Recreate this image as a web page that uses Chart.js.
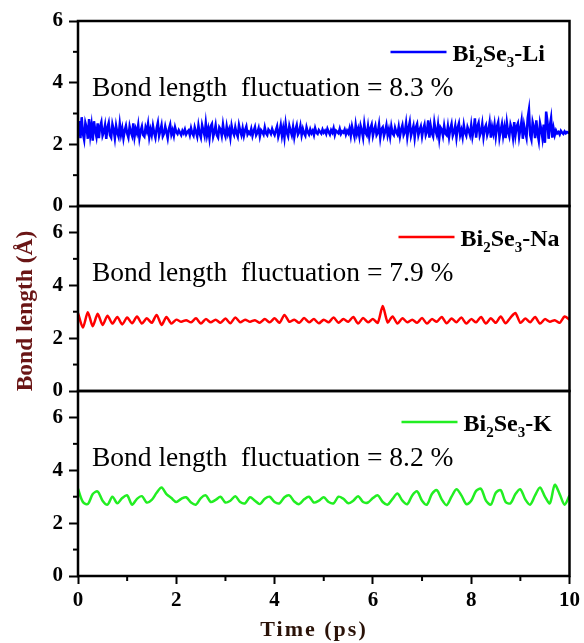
<!DOCTYPE html>
<html>
<head>
<meta charset="utf-8">
<script src="https://cdn.jsdelivr.net/npm/chart.js@4.4.0/dist/chart.umd.min.js"></script>
<style>
  html, body { margin: 0; padding: 0; background: #fff; }
  #wrap { position: relative; width: 584px; height: 643px; }
</style>
</head>
<body>
<div id="wrap"><canvas id="chart"></canvas></div>
<script>
// sampling step (ps) of each trace
const liStep = 0.025;
const naStep = 0.1;
const kStep = 0.1;

// Bi2Se3-Li bond length (Å), one row = 0.5 ps
const liBond = [
  2.40, 2.75, 2.20, 2.88, 2.35, 2.15, 2.70, 2.55, 2.18, 2.82, 2.30, 2.62, 2.12, 2.75, 2.45, 2.25, 2.68, 2.20, 2.58, 2.72,
  2.28, 2.40, 2.62, 2.18, 2.55, 2.70, 2.30, 2.22, 2.65, 2.48, 2.20, 2.60, 2.38, 2.25, 2.66, 2.32, 2.52, 2.20, 2.45, 2.60,
  2.35, 2.22, 2.58, 2.40, 2.28, 2.68, 2.25, 2.50, 2.36, 2.62, 2.20, 2.44, 2.58, 2.30, 2.25, 2.55, 2.42, 2.66, 2.24, 2.48,
  2.30, 2.60, 2.38, 2.22, 2.52, 2.70, 2.28, 2.44, 2.62, 2.26, 2.35, 2.58, 2.40, 2.20, 2.50, 2.64, 2.32, 2.46, 2.28, 2.55,
  2.40, 2.34, 2.46, 2.38, 2.30, 2.44, 2.36, 2.48, 2.32, 2.40, 2.45, 2.30, 2.52, 2.36, 2.28, 2.55, 2.40, 2.25, 2.60, 2.35,
  2.22, 2.62, 2.45, 2.28, 2.68, 2.30, 2.50, 2.20, 2.58, 2.66, 2.25, 2.40, 2.62, 2.30, 2.22, 2.55, 2.48, 2.28, 2.64, 2.38,
  2.26, 2.58, 2.34, 2.48, 2.22, 2.60, 2.40, 2.30, 2.55, 2.36, 2.25, 2.62, 2.44, 2.30, 2.52, 2.28, 2.46, 2.58, 2.32, 2.40,
  2.34, 2.50, 2.28, 2.44, 2.56, 2.30, 2.38, 2.52, 2.26, 2.46, 2.40, 2.32, 2.55, 2.36, 2.30, 2.48, 2.42, 2.34, 2.50, 2.38,
  2.30, 2.45, 2.58, 2.25, 2.40, 2.62, 2.28, 2.52, 2.22, 2.66, 2.38, 2.26, 2.60, 2.44, 2.30, 2.56, 2.24, 2.48, 2.62, 2.32,
  2.40, 2.60, 2.30, 2.50, 2.36, 2.28, 2.55, 2.40, 2.32, 2.48, 2.36, 2.44, 2.30, 2.52, 2.38, 2.34, 2.46, 2.40, 2.35, 2.48,
  2.38, 2.44, 2.34, 2.50, 2.40, 2.32, 2.46, 2.38, 2.52, 2.30, 2.44, 2.40, 2.36, 2.50, 2.34, 2.42, 2.38, 2.48, 2.32, 2.44,
  2.36, 2.52, 2.28, 2.58, 2.40, 2.24, 2.62, 2.34, 2.50, 2.26, 2.60, 2.44, 2.22, 2.66, 2.38, 2.30, 2.58, 2.25, 2.52, 2.64,
  2.28, 2.46, 2.60, 2.30, 2.38, 2.64, 2.22, 2.50, 2.56, 2.28, 2.42, 2.62, 2.30, 2.48, 2.24, 2.58, 2.36, 2.30, 2.54, 2.40,
  2.32, 2.56, 2.26, 2.48, 2.62, 2.30, 2.40, 2.68, 2.24, 2.52, 2.72, 2.28, 2.44, 2.60, 2.22, 2.55, 2.66, 2.30, 2.46, 2.58,
  2.26, 2.50, 2.64, 2.30, 2.42, 2.78, 2.22, 2.60, 2.36, 2.25, 2.70, 2.44, 2.30, 2.62, 2.20, 2.55, 2.48, 2.28, 2.60, 2.35,
  2.30, 2.58, 2.24, 2.50, 2.66, 2.28, 2.40, 2.60, 2.22, 2.54, 2.68, 2.30, 2.46, 2.24, 2.62, 2.38, 2.28, 2.56, 2.44, 2.30,
  2.62, 2.25, 2.48, 2.84, 2.22, 2.58, 2.70, 2.28, 2.40, 2.66, 2.24, 2.52, 2.62, 2.30, 2.44, 2.70, 2.22, 2.56, 2.36, 2.64,
  2.26, 2.58, 2.72, 2.22, 2.46, 2.66, 2.28, 2.54, 2.20, 2.70, 2.40, 2.26, 2.64, 2.50, 2.22, 2.72, 2.30, 2.58, 2.68, 2.24,
  2.50, 2.76, 2.18, 2.62, 2.40, 2.22, 2.86, 3.12, 2.30, 2.15, 2.72, 2.55, 2.20, 2.78, 2.36, 2.12, 2.68, 2.48, 2.20, 2.64,
  2.05, 3.06, 2.75, 2.18, 2.60, 2.85, 2.22, 2.52, 2.30, 2.45, 2.36, 2.40, 2.32, 2.44, 2.38, 2.34, 2.42, 2.36, 2.40, 2.38,
  2.36
];

// Bi2Se3-Na bond length (Å)
const naBond = [
  2.95, 2.40, 2.98, 2.45, 2.92, 2.50, 2.85, 2.55, 2.80, 2.52,
  2.78, 2.56, 2.82, 2.55, 2.75, 2.58, 2.88, 2.50, 2.80, 2.55,
  2.70, 2.62, 2.68, 2.60, 2.75, 2.55, 2.72, 2.60, 2.70, 2.58,
  2.74, 2.56, 2.78, 2.60, 2.70, 2.62, 2.68, 2.58, 2.72, 2.60,
  2.75, 2.58, 2.88, 2.62, 2.70, 2.58, 2.76, 2.60, 2.72, 2.56,
  2.70, 2.60, 2.78, 2.58, 2.72, 2.62, 2.80, 2.55, 2.76, 2.60,
  2.72, 2.58, 3.22, 2.60, 2.82, 2.55, 2.75, 2.60, 2.70, 2.58,
  2.76, 2.55, 2.72, 2.62, 2.80, 2.56, 2.74, 2.60, 2.78, 2.55,
  2.72, 2.60, 2.80, 2.55, 2.75, 2.58, 2.82, 2.56, 2.78, 2.95,
  2.58, 2.74, 2.60, 2.80, 2.55, 2.72, 2.62, 2.68, 2.58, 2.82,
  2.70
];

// Bi2Se3-K bond length (Å)
const kBond = [
  3.30, 2.80, 2.72, 3.10, 3.20, 2.85, 2.70, 3.00, 2.75, 2.95,
  3.05, 2.70, 2.92, 3.02, 2.78, 2.88, 3.15, 3.35, 3.10, 2.95,
  2.80, 2.92, 2.98, 2.78, 2.70, 2.95, 3.05, 2.80, 2.88, 3.00,
  2.78, 2.85, 3.02, 2.80, 2.75, 2.98, 2.85, 2.72, 2.92, 3.00,
  2.80, 2.75, 2.98, 3.05, 2.82, 2.72, 2.90, 3.00, 2.78, 2.85,
  2.98, 2.80, 2.75, 3.00, 2.92, 2.75, 2.85, 3.02, 2.80, 2.78,
  2.95, 3.05, 2.80, 2.70, 2.92, 3.12, 2.85, 2.72, 3.05, 3.20,
  2.85, 2.70, 3.10, 3.25, 2.90, 2.68, 3.00, 3.28, 3.05, 2.72,
  2.85, 3.22, 3.30, 2.85, 2.70, 3.15, 3.25, 2.80, 2.75, 3.10,
  3.28, 2.90, 2.70, 3.05, 3.35, 3.00, 2.75, 3.45, 3.10, 2.70,
  3.05
];

const systems = ["Li", "Na", "K"];
const fluctuations = ["8.3", "7.9", "8.2"];
const lineColors = ["#0000ff", "#ff0000", "#22ee22"];
const yMax = [6, 7, 7];
const xRange = [0, 10];

const serif = "'Liberation Serif', 'Times New Roman', serif";

const toPoints = (vals, step) => vals.map((v, i) => ({ x: +(i * step).toFixed(3), y: v }));

const yScale = (max, weight) => ({
  type: "linear",
  position: "left",
  stack: "panels",
  stackWeight: 1,
  weight: weight,
  min: 0,
  max: max,
  border: { display: false },
  grid: {
    drawOnChartArea: false,
    tickLength: 9,
    tickWidth: 2,
    tickColor: (c) => (c.tick && c.tick.value % 2 === 0 && c.tick.value <= 6 ? "#000" : "rgba(0,0,0,0)"),
  },
  ticks: {
    stepSize: 1,
    autoSkip: false,
    padding: 6,
    color: "#000",
    font: { family: serif, weight: "bold", size: 21 },
    callback: (v) => (v % 2 === 0 && v <= 6 ? v : ""),
  },
  afterFit: (s) => { s.width = 78; },
});

// frames, minor ticks, annotation text, legends and axis titles
const panelDecor = {
  id: "panelDecor",
  afterDraw(chart) {
    const { ctx, chartArea } = chart;
    const ids = ["yLi", "yNa", "yK"];
    const legendX = [179, 171, 168];
    ctx.save();
    ids.forEach((id, i) => {
      const s = chart.scales[id];
      ctx.strokeStyle = "#000";
      ctx.lineWidth = 2.5;
      ctx.strokeRect(chartArea.left, s.top, chartArea.right - chartArea.left, s.bottom - s.top);

      // minor ticks
      ctx.lineWidth = 2;
      [1, 3, 5].forEach((v) => {
        const y = s.getPixelForValue(v);
        ctx.beginPath();
        ctx.moveTo(chartArea.left - 5, y);
        ctx.lineTo(chartArea.left, y);
        ctx.stroke();
      });

      // fluctuation text
      ctx.fillStyle = "#000";
      ctx.textBaseline = "alphabetic";
      ctx.textAlign = "left";
      ctx.font = "27.5px " + serif;
      ctx.fillText("Bond length  fluctuation = " + fluctuations[i] + " %", chartArea.left + 14, s.top + 75);

      // legend
      const x1 = chartArea.right - legendX[i];
      const x2 = x1 + 56;
      ctx.strokeStyle = lineColors[i];
      ctx.lineWidth = 2.5;
      ctx.beginPath();
      ctx.moveTo(x1, s.top + 31);
      ctx.lineTo(x2, s.top + 31);
      ctx.stroke();
      let x = x2 + 6;
      const base = s.top + 40;
      const parts = [["Bi", 0], ["2", 1], ["Se", 0], ["3", 1], ["-" + systems[i], 0]];
      parts.forEach(([t, sub]) => {
        ctx.font = "bold " + (sub ? 15 : 24) + "px " + serif;
        ctx.fillText(t, x, base + (sub ? 6 : 0));
        x += ctx.measureText(t).width;
      });
    });

    // minor x ticks
    const xs = chart.scales.x;
    ctx.strokeStyle = "#000";
    ctx.lineWidth = 2;
    [1, 3, 5, 7, 9].forEach((v) => {
      const x = xs.getPixelForValue(v);
      ctx.beginPath();
      ctx.moveTo(x, chartArea.bottom);
      ctx.lineTo(x, chartArea.bottom + 5);
      ctx.stroke();
    });

    // x axis title
    ctx.textAlign = "center";
    ctx.textBaseline = "middle";
    ctx.fillStyle = "#2a1208";
    ctx.font = "bold 22px " + serif;
    ctx.letterSpacing = "2px";
    ctx.fillText("Time (ps)", 314, 630);
    ctx.letterSpacing = "0px";

    // y axis title
    ctx.translate(26, 311);
    ctx.rotate(-Math.PI / 2);
    ctx.fillStyle = "#6a1515";
    ctx.font = "bold 23.5px " + serif;
    ctx.fillText("Bond length (Å)", 0, 0);
    ctx.restore();
  },
};

new Chart(document.getElementById("chart"), {
  type: "line",
  data: {
    datasets: [
      { label: "Bi2Se3-K", data: toPoints(kBond, kStep), yAxisID: "yK", borderColor: lineColors[2], borderWidth: 2.5, pointRadius: 0, tension: 0.3 },
      { label: "Bi2Se3-Na", data: toPoints(naBond, naStep), yAxisID: "yNa", borderColor: lineColors[1], borderWidth: 2.5, pointRadius: 0, tension: 0.25 },
      { label: "Bi2Se3-Li", data: toPoints(liBond, liStep), yAxisID: "yLi", borderColor: lineColors[0], borderWidth: 2.5, pointRadius: 0, tension: 0 },
    ],
  },
  options: {
    responsive: true,
    maintainAspectRatio: false,
    animation: false,
    layout: { padding: { top: 21, right: 12, left: 0, bottom: 0 } },
    plugins: { legend: { display: false }, tooltip: { enabled: false } },
    scales: {
      x: {
        type: "linear",
        min: xRange[0],
        max: xRange[1],
        border: { display: false },
        grid: {
          drawOnChartArea: false,
          tickLength: 8,
          tickWidth: 2,
          tickColor: (c) => (c.tick && c.tick.value % 2 === 0 ? "#000" : "rgba(0,0,0,0)"),
        },
        ticks: {
          stepSize: 1,
          autoSkip: false,
          maxRotation: 0,
          padding: 4,
          color: "#000",
          font: { family: serif, weight: "bold", size: 21 },
          callback: (v) => (v % 2 === 0 ? v : ""),
        },
        afterFit: (s) => { s.height = 67; },
      },
      yK: yScale(yMax[2], 1),
      yNa: yScale(yMax[1], 2),
      yLi: yScale(yMax[0], 3),
    },
  },
  plugins: [panelDecor],
});
</script>
</body>
</html>
